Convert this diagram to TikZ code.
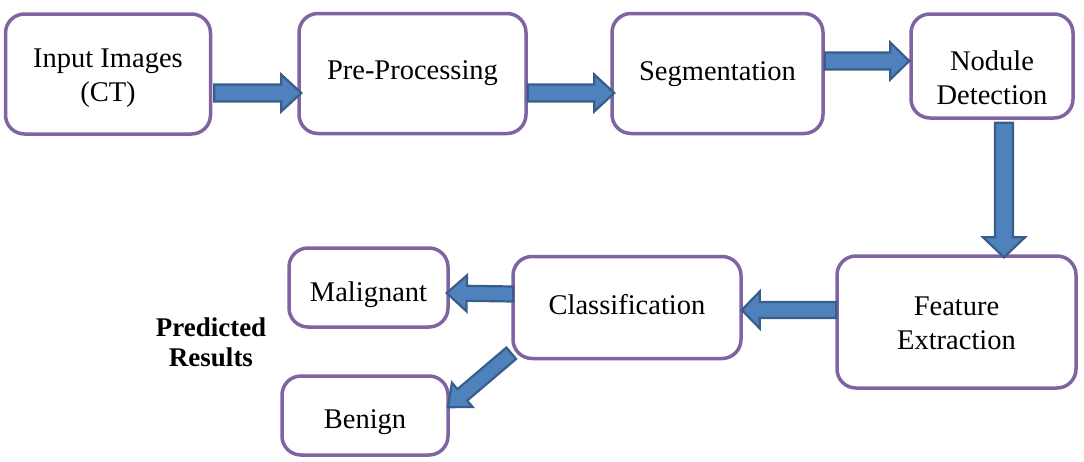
\documentclass[tikz,border=0pt]{standalone}
\usepackage{fontspec}
\setmainfont{Liberation Serif}
\usetikzlibrary{calc}
\definecolor{boxpurple}{HTML}{8064A2}
\definecolor{arrfill}{HTML}{4F81BD}
\definecolor{arrline}{HTML}{385D8A}
\tikzset{
  procbox/.style={draw=boxpurple, line width=3.5pt, rounded corners=19pt, fill=white,
    inner sep=0pt},
  boxtext/.style={align=center, inner sep=0pt, font=\fontsize{28.5}{34}\selectfont},
  barrow/.style={fill=arrfill, draw=arrline, line width=2.2pt, line join=miter},
  restext/.style={align=center, font=\bfseries\fontsize{27}{30}\selectfont},
}
% #1 start, #2 tip, #3 shaft half width, #4 head half width, #5 head length
\newcommand\blockarrow[5]{%
  \path[barrow] let \p1=(#1), \p2=(#2),
    \n1={atan2(\y2-\y1,\x2-\x1)}, \n2={veclen(\x2-\x1,\y2-\y1)} in
    ([shift={(\p1)},rotate=\n1]0,-#3)
    -- ([shift={(\p1)},rotate=\n1]\n2-#5,-#3)
    -- ([shift={(\p1)},rotate=\n1]\n2-#5,-#4)
    -- ([shift={(\p1)},rotate=\n1]\n2,0)
    -- ([shift={(\p1)},rotate=\n1]\n2-#5,#4)
    -- ([shift={(\p1)},rotate=\n1]\n2-#5,#3)
    -- ([shift={(\p1)},rotate=\n1]0,#3) -- cycle;}
\begin{document}
\begin{tikzpicture}[x=1pt,y=1pt]
\useasboundingbox (0,0) rectangle (1084,-461);
% boxes
\node[procbox, minimum width=205, minimum height=120] (inp) at (108,-74) {};
\node[procbox, minimum width=227, minimum height=120] (pre) at (412.5,-73.5) {};
\node[procbox, minimum width=211, minimum height=120] (seg) at (717.5,-73.5) {};
\node[procbox, minimum width=162, minimum height=104] (nod) at (992,-66) {};
\node[procbox, minimum width=239, minimum height=132] (fea) at (956.5,-322) {};
\node[procbox, minimum width=228, minimum height=102] (cls) at (627,-307.5) {};
\node[procbox, minimum width=159, minimum height=79] (mal) at (368.5,-287.5) {};
\node[procbox, minimum width=166, minimum height=79] (ben) at (365,-415.5) {};
% box texts
\node[boxtext] (inpt) at ($(inp.center)+(0,-4)$) {Input Images\\(CT)};
\node[boxtext] (pret) at ($(pre.center)+(0,0)$) {Pre-Processing};
\node[boxtext] (segt) at ($(seg.center)+(0,-1)$) {Segmentation};
\node[boxtext] (nodt) at ($(nod.center)+(0,-12)$) {Nodule\\Detection};
\node[boxtext] (feat) at ($(fea.center)+(0,-1)$) {Feature\\Extraction};
\node[boxtext] (clst) at ($(cls.center)+(0,3)$) {Classification};
\node[boxtext] (malt) at ($(mal.center)+(0,-7)$) {Malignant};
\node[boxtext] (bent) at ($(ben.center)+(0,-7)$) {Benign};
\node[restext] (res) at (211,-342) {Predicted\\Results};
% arrow end points on the boxes
\coordinate (a1s) at ($(inp.east)+(2,-19)$);
\coordinate (a1e) at ($(pre.west)+(4,-19.5)$);
\coordinate (a2s) at ($(pre.east)+(0,-19.5)$);
\coordinate (a2e) at ($(seg.west)+(4,-19.5)$);
\coordinate (a3s) at ($(seg.east)+(0,12.5)$);
\coordinate (a3e) at ($(nod.west)+(0,5)$);
\coordinate (a4s) at ($(nod.south)+(12,-3)$);
\coordinate (a4e) at ($(fea.north)+(47.5,-3)$);
\coordinate (a5s) at ($(fea.west)+(1,12)$);
\coordinate (a5e) at ($(cls.east)+(-1,-2.5)$);
\coordinate (a6s) at ($(cls.west)+(2,13.5)$);
\coordinate (a6e) at ($(mal.east)+(-3,-5.5)$);
\coordinate (a7s) at ($(cls.south west)+(0,7)$);
\coordinate (a7e) at ($(ben.north east)+(-2,-33)$);
% block arrows
\blockarrow{a1s}{a1e}{8.5}{18.5}{20}
\blockarrow{a2s}{a2e}{8.5}{18.5}{20}
\blockarrow{a3s}{a3e}{8.5}{18.5}{19}
\blockarrow{a4s}{a4e}{9}{21}{20}
\blockarrow{a5s}{a5e}{8}{18.5}{18}
\blockarrow{a6s}{a6e}{7.5}{18}{20}
\blockarrow{a7s}{a7e}{7.5}{16}{19}
\end{tikzpicture}
\end{document}
